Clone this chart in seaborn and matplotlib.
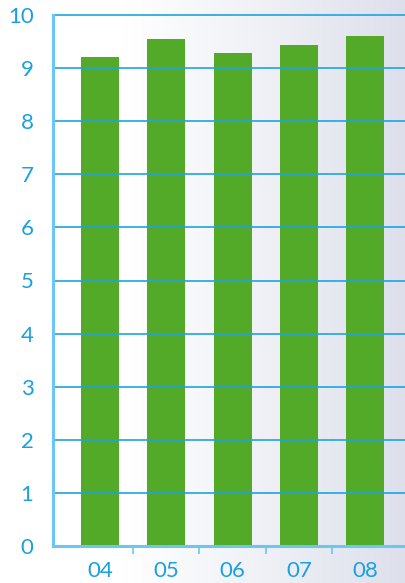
import numpy as np
import pandas as pd
import matplotlib
matplotlib.use("Agg")
import matplotlib.pyplot as plt
import seaborn as sns
from matplotlib.colors import LinearSegmentedColormap

years = ["04", "05", "06", "07", "08"]
values = [9.2, 9.55, 9.28, 9.43, 9.6]
y_ticks = [0, 1, 2, 3, 4, 5, 6, 7, 8, 9, 10]

df = pd.DataFrame({"year": years, "value": values})

BAR_GREEN = "#52aa28"
GRID_BLUE = "#1ea3e2"
SPINE_BLUE = "#6cc7f0"
TEXT_BLUE = "#1aa0e0"

sns.set_theme(style="white")
plt.rcParams["font.family"] = ["Lato", "DejaVu Sans"]

fig = plt.figure(figsize=(4.06, 5.83), dpi=100)

# soft horizontal background wash, white on the left fading to pale blue-grey
bg = fig.add_axes([0, 0, 1, 1], zorder=-10)
bg.axis("off")
grad_cmap = LinearSegmentedColormap.from_list(
    "wash", [(0.0, "#ffffff"), (0.3, "#ffffff"), (0.65, "#eff1f6"), (1.0, "#dde0eb")]
)
bg.imshow(np.linspace(0, 1, 256)[None, :], aspect="auto", cmap=grad_cmap,
          extent=[0, 1, 0, 1])
bg.set_xlim(0, 1)
bg.set_ylim(0, 1)

ax = fig.add_axes([53 / 406, 37 / 583, 1 - 53 / 406, (546 - 15) / 583])
ax.set_facecolor("none")

sns.barplot(data=df, x="year", y="value", color=BAR_GREEN, saturation=1,
            width=0.573, linewidth=0, edgecolor="none", ax=ax, zorder=1)

ax.set_ylim(0, 10)
ax.set_xlim(-0.709, 4.615)
ax.set_yticks(y_ticks)
ax.set_yticklabels([str(t) for t in y_ticks])

# horizontal guides drawn over the bars
for t in y_ticks[1:]:
    ax.axhline(t, color=GRID_BLUE, lw=1.2, zorder=3, clip_on=False)

for side in ["top", "right"]:
    ax.spines[side].set_visible(False)
for side in ["left", "bottom"]:
    ax.spines[side].set_color(SPINE_BLUE)
    ax.spines[side].set_linewidth(2.2)
    ax.spines[side].set_zorder(4)

ax.set_xlabel("")
ax.set_ylabel("")

ax.tick_params(axis="y", which="both", length=0, pad=14, labelsize=16,
               labelcolor=TEXT_BLUE)
ax.tick_params(axis="x", which="major", length=0, pad=11, labelsize=16,
               labelcolor=TEXT_BLUE)
ax.set_xticks([0.5, 1.5, 2.5, 3.5], minor=True)
ax.tick_params(axis="x", which="minor", direction="out", length=6, width=1.2,
               color=SPINE_BLUE, bottom=True)

fig.savefig("out.png", dpi=100)
